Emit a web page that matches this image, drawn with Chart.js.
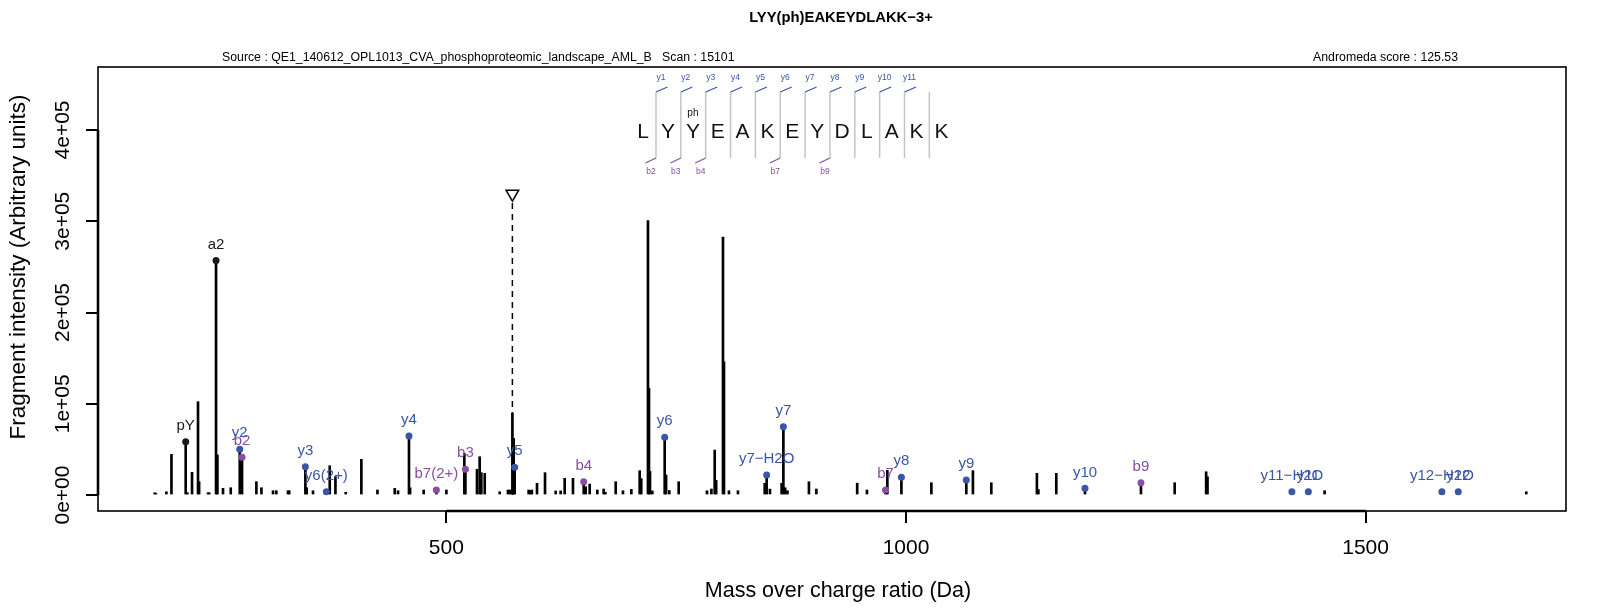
<!DOCTYPE html>
<html>
<head>
  <title>LYY(ph)EAKEYDLAKK-3+ spectrum</title>
  <script src="https://cdn.jsdelivr.net/npm/chart.js"></script>
  <style>
    body {
      margin: 0;
      background: #fff;
    }
    #wrap {
      width: 1599px;
      height: 609px;
    }
  </style>
</head>
<body>
  <div id="wrap">
    <canvas id="spectrum"></canvas>
  </div>

  <script>
    // unannotated fragment peaks (m/z, intensity)
    const peakMz = [182.7, 184, 195.4, 200.9, 218.3, 223.3, 229.8, 231, 240.7, 242, 250.9, 257, 265.4,
      293.3, 298.8, 311.4, 315, 327.7, 329, 348, 354.9, 373.1, 379.3, 390.5, 407.5, 425, 443.8, 447.4,
      460.5, 475.3, 500, 519.5, 533.3, 536.2, 538, 541.7, 558, 567, 569, 571.8, 573.2, 589.5, 591.4,
      593, 598.6, 607.3, 618.9, 624.3, 628.7, 637.7, 651.5, 655.9, 664.2, 671.1, 673, 684.2, 692.1,
      701.2, 710.3, 712, 719.3, 720.4, 721.5, 724, 739, 742.5, 752.7, 783.5, 788.3, 791.9, 793.5,
      800.9, 802, 807.4, 817.2, 846.3, 852, 864.7, 868.5, 871, 894.4, 902.5, 946.9, 957.5, 979.7,
      1027.6, 1072.8, 1092.8, 1142.4, 1144, 1163.5, 1292.3, 1326.5, 1328, 1455.4, 1674.8];
    const peakIntensity = [2500, 2000, 3600, 44600, 2500, 24900, 102300, 14600, 2500, 2500, 43900, 7300, 8000,
      14600, 8000, 4700, 4700, 4700, 4700, 8000, 4700, 32100, 20100, 3000, 39100, 5500, 7300, 4700,
      8000, 5500, 5500, 45700, 28200, 42000, 24500, 23800, 3600, 5500, 5500, 89600, 62000, 5500, 5000,
      5500, 12800, 24500, 4500, 4500, 18300, 18300, 9000, 12000, 5500, 6600, 3000, 14600, 4700,
      6200, 26700, 18000, 300800, 117000, 26000, 4500, 22000, 5000, 14600, 4700, 6600, 49300, 16000,
      282600, 146000, 4700, 4700, 12800, 6500, 12800, 8000, 4700, 14600, 6600, 13000, 5500, 27000,
      13500, 26700, 13500, 23800, 6000, 23800, 13500, 25500, 20000, 4700, 3600];

    // annotated ions
    const ionLabels = ['pY', 'a2', 'y2', 'b2', 'y3', 'y6(2+)', 'y4', 'b7(2+)', 'b3', 'y5', 'b4', 'y6',
      'y7\u2212H2O', 'y7', 'b7', 'y8', 'y9', 'y10', 'b9', 'y11\u2212H2O', 'y11', 'y12\u2212H2O', 'y12'];
    const ionMz = [216.4, 249.4, 275.2, 277.7, 346.6, 369.4, 459.3, 489.1, 520.7, 574.3, 649.4, 737.5,
      848.4, 866.6, 977.7, 995, 1065.6, 1194.7, 1255.6, 1419.8, 1437.7, 1583, 1600.8];
    const ionIntensity = [58400, 256900, 50100, 41300, 31000, 3600, 64700, 5500, 28200, 30400, 14600, 63300,
      22000, 74900, 5500, 19400, 16400, 7300, 13500, 3600, 3600, 3600, 3600];
    const ionType = ['other', 'other', 'y', 'b', 'y', 'y', 'y', 'b', 'b', 'y', 'b', 'y',
      'y', 'y', 'b', 'y', 'y', 'y', 'b', 'y', 'y', 'y', 'y'];

    // precursor marker
    const precursorMz = 571.8;
    const precursorMark = 330000;
    const precursorLineTop = 320000;

    // peptide sequence and observed cleavages
    const sequence = ['L', 'Y', 'Y', 'E', 'A', 'K', 'E', 'Y', 'D', 'L', 'A', 'K', 'K'];
    const yCuts = [1, 2, 3, 4, 5, 6, 7, 8, 9, 10, 11];
    const bCuts = [2, 3, 4, 7, 9];
    const modSite = 2;
    const modLabel = 'ph';

    const xTicks = [500, 1000, 1500];
    const yTicks = [0, 100000, 200000, 300000, 400000];
    const xMin = 121, xMax = 1718;
    const yMin = -17500, yMax = 469000;

    const titleText = 'LYY(ph)EAKEYDLAKK\u22123+';
    const sourceText = 'Source : QE1_140612_OPL1013_CVA_phosphoproteomic_landscape_AML_B   Scan : 15101';
    const scoreText = 'Andromeda score : 125.53';
    const xTitle = 'Mass over charge ratio (Da)';
    const yTitle = 'Fragment intensity (Arbitrary units)';

    const colors = { y: '#3a56a8', b: '#8a4ea5', other: '#1a1a1a' };
    const FONT = '"Liberation Sans", Arial, Helvetica, sans-serif';

    const allMz = peakMz.concat(ionMz);
    const allInt = peakIntensity.concat(ionIntensity);

    function sci(v) {
      return v.toExponential(0).replace(/e([+-])(\d)$/, 'e$10$2');
    }

    const decorations = {
      id: 'decorations',
      beforeDraw(chart) {
        const c = chart.ctx;
        c.save();
        c.fillStyle = '#fff';
        c.fillRect(0, 0, chart.width, chart.height);
        c.restore();
      },
      afterDatasetsDraw(chart) {
        const c = chart.ctx;
        const xs = chart.scales.x, ys = chart.scales.y;
        c.save();
        // ion labels
        c.font = '15px ' + FONT;
        c.textAlign = 'center';
        c.textBaseline = 'middle';
        ionLabels.forEach((lab, i) => {
          c.fillStyle = colors[ionType[i]];
          c.fillText(lab, xs.getPixelForValue(ionMz[i]), ys.getPixelForValue(ionIntensity[i]) - 16);
        });

        // box, plus the heavier axis segments R draws between the outer ticks
        const a = chart.chartArea;
        c.strokeStyle = '#000';
        c.lineWidth = 1.6;
        c.strokeRect(a.left, a.top, a.right - a.left, a.bottom - a.top);
        c.lineWidth = 2.6;
        c.beginPath();
        c.moveTo(xs.getPixelForValue(xTicks[0]), a.bottom);
        c.lineTo(xs.getPixelForValue(xTicks[xTicks.length - 1]), a.bottom);
        c.moveTo(a.left, ys.getPixelForValue(yTicks[0]));
        c.lineTo(a.left, ys.getPixelForValue(yTicks[yTicks.length - 1]));
        c.stroke();

        // y tick labels, rotated like R
        c.fillStyle = '#000';
        c.font = '21px ' + FONT;
        ys.ticks.forEach(t => {
          const py = ys.getPixelForValue(t.value);
          c.save();
          c.translate(63, py);
          c.rotate(-Math.PI / 2);
          c.fillText(sci(t.value), 0, 0);
          c.restore();
        });

        // axis titles
        c.font = '21.5px ' + FONT;
        c.fillText(xTitle, 838, 591);
        c.save();
        c.translate(18.5, 267);
        c.rotate(-Math.PI / 2);
        c.font = '22.5px ' + FONT;
        c.fillText(yTitle, 0, 0);
        c.restore();

        // header texts
        c.font = 'bold 14.8px ' + FONT;
        c.fillText(titleText, 841, 18);
        c.font = '12.3px ' + FONT;
        c.textAlign = 'left';
        c.fillText(sourceText, 222, 58);
        c.textAlign = 'right';
        c.fillText(scoreText, 1458, 58);

        // sequence diagram
        const sepX = j => 656 + (j - 1) * 24.85;
        const letX = i => 643.2 + i * 24.85;
        c.strokeStyle = '#c4c4c4';
        c.lineWidth = 1.5;
        for (let j = 1; j < sequence.length; j++) {
          c.beginPath();
          c.moveTo(sepX(j), 92);
          c.lineTo(sepX(j), 158);
          c.stroke();
        }
        c.fillStyle = '#111';
        c.textAlign = 'center';
        c.font = '21px ' + FONT;
        sequence.forEach((aa, i) => c.fillText(aa, letX(i), 132));
        c.font = '10px ' + FONT;
        c.fillText(modLabel, letX(modSite), 113);

        c.lineWidth = 1.2;
        c.font = '8.5px ' + FONT;
        c.strokeStyle = colors.y;
        c.fillStyle = colors.y;
        yCuts.forEach(j => {
          const x = sepX(j);
          c.beginPath();
          c.moveTo(x, 92);
          c.lineTo(x + 11.5, 87);
          c.stroke();
          c.fillText('y' + j, x + 5, 78);
        });
        c.strokeStyle = colors.b;
        c.fillStyle = colors.b;
        bCuts.forEach(j => {
          const x = sepX(j - 1);
          c.beginPath();
          c.moveTo(x, 158);
          c.lineTo(x - 10.5, 163);
          c.stroke();
          c.fillText('b' + j, x - 5, 172);
        });
        c.restore();
      }
    };

    const ctx = document.getElementById('spectrum').getContext('2d');
    const spectrum = new Chart(ctx, {
      type: 'bar',
      data: {
        datasets: [
          {
            type: 'line',
            data: [{ x: precursorMz, y: 0 }, { x: precursorMz, y: precursorLineTop }],
            borderColor: '#000',
            borderWidth: 1.5,
            borderDash: [6, 5],
            pointRadius: 0,
            order: 3
          },
          {
            type: 'bar',
            data: allMz.map((m, i) => ({ x: m, y: allInt[i] })),
            backgroundColor: '#000',
            barThickness: 2,
            order: 2
          },
          {
            type: 'scatter',
            data: ionMz.map((m, i) => ({ x: m, y: ionIntensity[i] })),
            pointRadius: 3.5,
            pointBorderWidth: 0,
            pointBackgroundColor: ionType.map(t => colors[t]),
            order: 1
          },
          {
            type: 'scatter',
            data: [{ x: precursorMz, y: precursorMark }],
            pointStyle: 'triangle',
            rotation: 180,
            pointRadius: 7.3,
            pointBorderWidth: 1.5,
            pointBorderColor: '#000',
            pointBackgroundColor: '#fff',
            order: 0
          }
        ]
      },
      options: {
        responsive: true,
        maintainAspectRatio: false,
        animation: false,
        layout: { padding: { top: 67, right: 33, left: 0, bottom: 0 } },
        plugins: {
          legend: { display: false },
          tooltip: { enabled: false },
          title: { display: false }
        },
        scales: {
          x: {
            type: 'linear',
            min: xMin,
            max: xMax,
            offset: false,
            afterBuildTicks: s => { s.ticks = xTicks.map(v => ({ value: v })); },
            afterFit: s => { s.height = 98; },
            grid: { drawOnChartArea: false, drawTicks: true, tickLength: 12, color: '#000', lineWidth: 2, offset: false },
            border: { display: false },
            ticks: {
              color: '#000',
              padding: 13,
              maxRotation: 0,
              font: { family: FONT, size: 21 },
              callback: v => String(v)
            }
          },
          y: {
            min: yMin,
            max: yMax,
            afterBuildTicks: s => { s.ticks = yTicks.map(v => ({ value: v })); },
            afterFit: s => { s.width = 98; },
            grid: { drawOnChartArea: false, drawTicks: true, tickLength: 12, color: '#000', lineWidth: 2 },
            border: { display: false },
            ticks: { display: false }
          }
        }
      },
      plugins: [decorations]
    });
  </script>
</body>
</html>
